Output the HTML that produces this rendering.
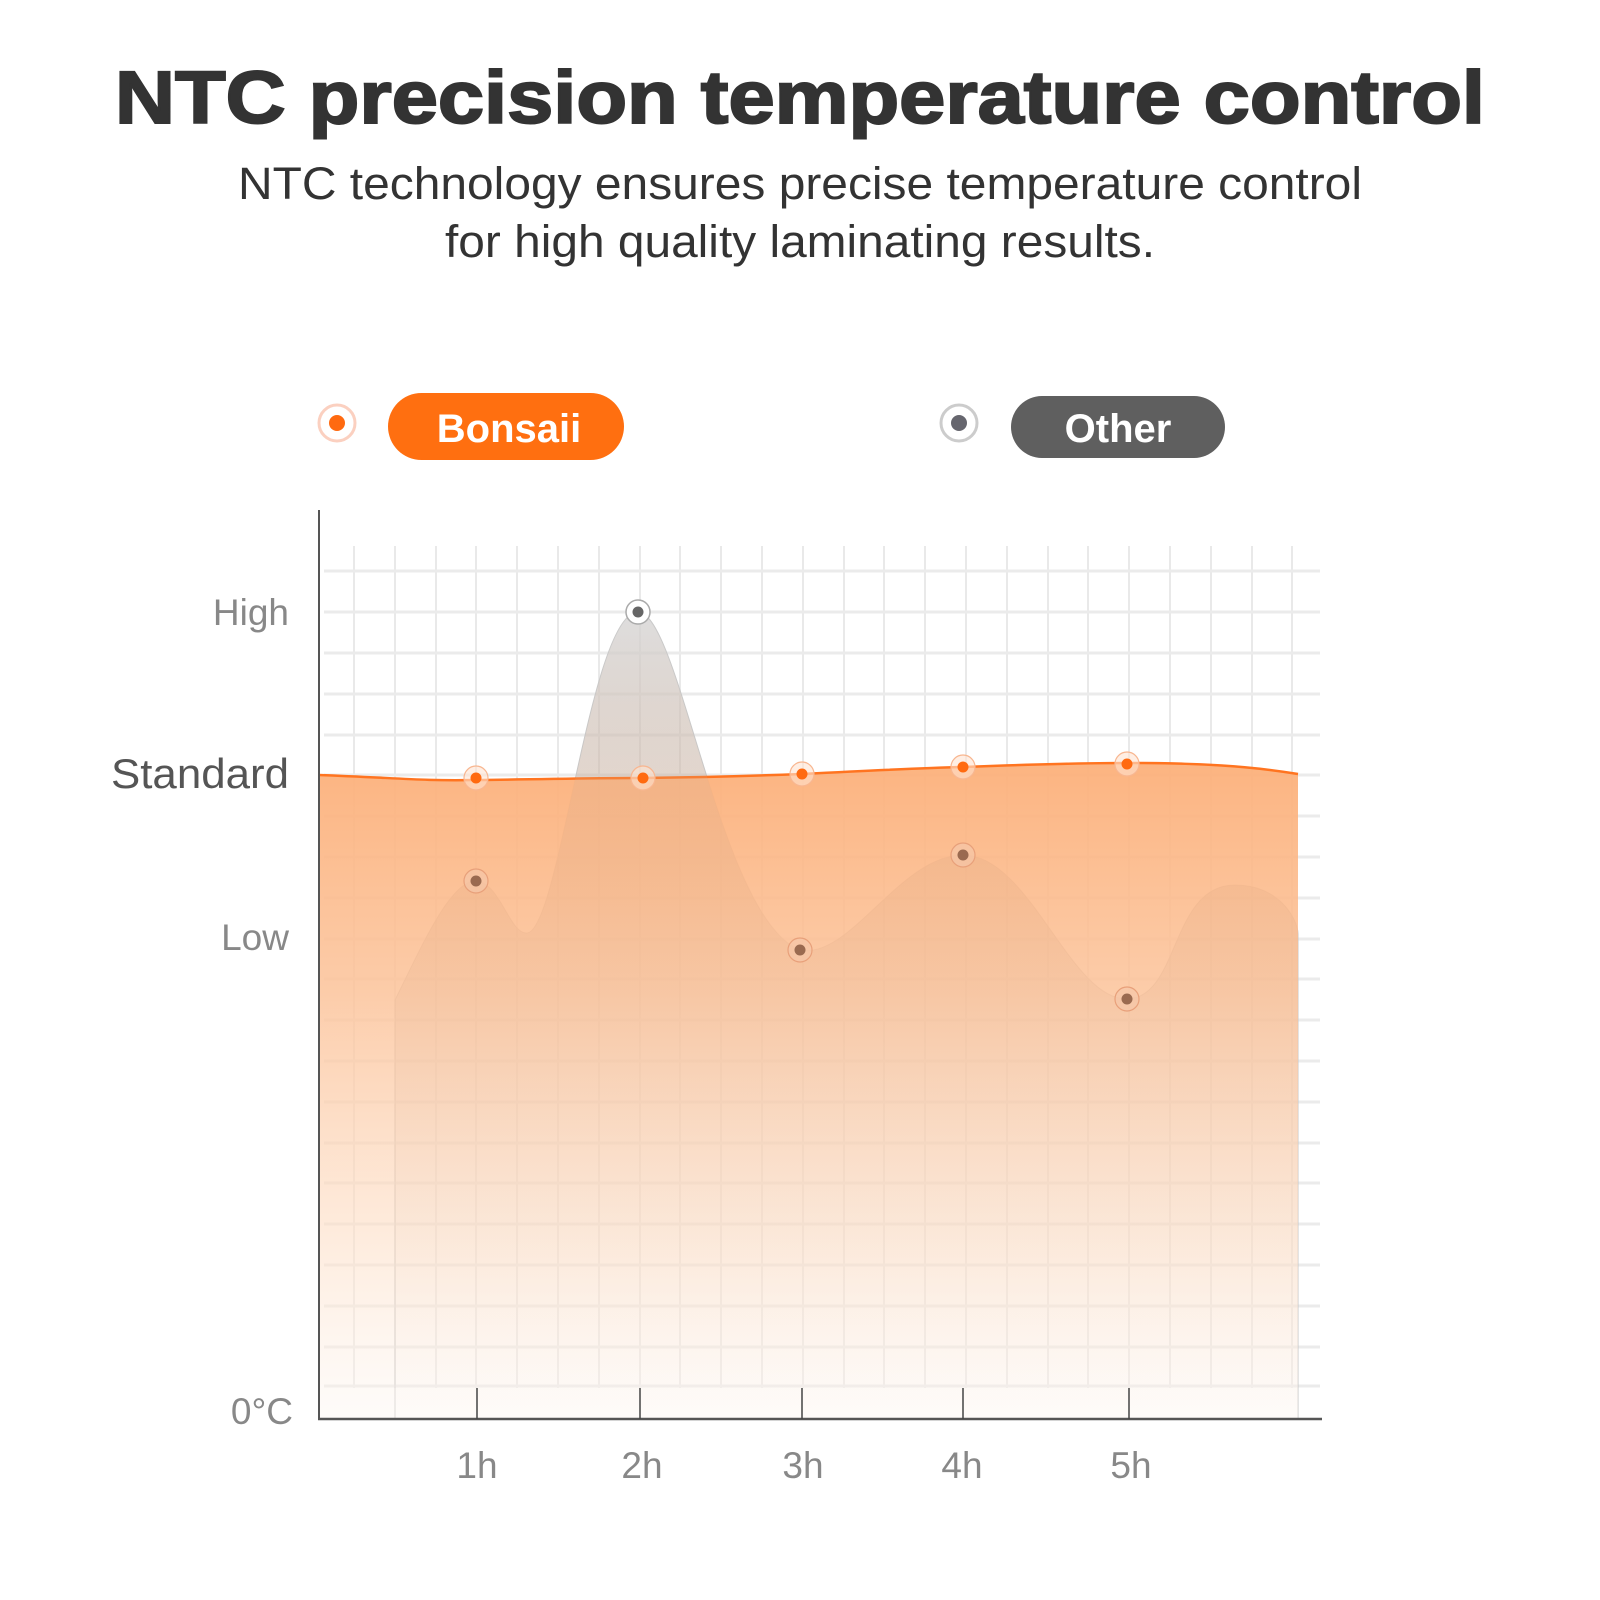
<!DOCTYPE html>
<html><head><meta charset="utf-8"><style>
html,body{margin:0;padding:0;background:#fff;}
svg{display:block;}
text{font-family:"Liberation Sans",Arial,sans-serif;}
</style></head><body>
<svg width="1600" height="1600" viewBox="0 0 1600 1600" xmlns="http://www.w3.org/2000/svg">
<defs>
<linearGradient id="og" x1="0" y1="0" x2="0" y2="1">
<stop offset="0" stop-color="#fcb07a" stop-opacity="0.95"/>
<stop offset="0.35" stop-color="#fcc39a" stop-opacity="0.85"/>
<stop offset="0.75" stop-color="#fde2cc" stop-opacity="0.6"/>
<stop offset="1" stop-color="#fdf6f1" stop-opacity="0.4"/>
</linearGradient>
<linearGradient id="gg" x1="0" y1="0" x2="0" y2="1">
<stop offset="0" stop-color="#d6d6d6" stop-opacity="0.75"/>
<stop offset="0.35" stop-color="#c09a80" stop-opacity="0.25"/>
<stop offset="1" stop-color="#e0d0c8" stop-opacity="0.0"/>
</linearGradient>
</defs>

<text x="800" y="123" text-anchor="middle" font-size="74" font-weight="900" fill="#333" textLength="1370" lengthAdjust="spacingAndGlyphs" stroke="#333" stroke-width="2">NTC precision temperature control</text>
<text x="800" y="199" text-anchor="middle" font-size="45" fill="#333" textLength="1124" lengthAdjust="spacingAndGlyphs">NTC technology ensures precise temperature control</text>
<text x="800" y="257" text-anchor="middle" font-size="45" fill="#333" textLength="710" lengthAdjust="spacingAndGlyphs">for high quality laminating results.</text>

<!-- legend -->
<circle cx="337" cy="423" r="18" fill="#fff" stroke="#fbd0c0" stroke-width="3"/>
<circle cx="337" cy="423" r="8" fill="#ff6a10"/>
<rect x="388" y="393" width="236" height="67" rx="33.5" fill="#ff6f10"/>
<text x="509" y="442" text-anchor="middle" font-size="40" font-weight="bold" fill="#fff">Bonsaii</text>
<circle cx="959" cy="423" r="18" fill="#fff" stroke="#ccc" stroke-width="3"/>
<circle cx="959" cy="423" r="8" fill="#66666e"/>
<rect x="1011" y="396" width="214" height="62" rx="31" fill="#5f5f5f"/>
<text x="1118" y="442" text-anchor="middle" font-size="40" font-weight="bold" fill="#fff">Other</text>

<!-- grid -->
<g stroke="#e9e9e9" stroke-width="2">
<line x1="354" y1="546" x2="354" y2="1388"/><line x1="395" y1="546" x2="395" y2="1388"/><line x1="436" y1="546" x2="436" y2="1388"/><line x1="476" y1="546" x2="476" y2="1388"/><line x1="517" y1="546" x2="517" y2="1388"/><line x1="558" y1="546" x2="558" y2="1388"/><line x1="599" y1="546" x2="599" y2="1388"/><line x1="640" y1="546" x2="640" y2="1388"/><line x1="680" y1="546" x2="680" y2="1388"/><line x1="721" y1="546" x2="721" y2="1388"/><line x1="762" y1="546" x2="762" y2="1388"/><line x1="803" y1="546" x2="803" y2="1388"/><line x1="844" y1="546" x2="844" y2="1388"/><line x1="884" y1="546" x2="884" y2="1388"/><line x1="925" y1="546" x2="925" y2="1388"/><line x1="966" y1="546" x2="966" y2="1388"/><line x1="1007" y1="546" x2="1007" y2="1388"/><line x1="1048" y1="546" x2="1048" y2="1388"/><line x1="1088" y1="546" x2="1088" y2="1388"/><line x1="1129" y1="546" x2="1129" y2="1388"/><line x1="1170" y1="546" x2="1170" y2="1388"/><line x1="1211" y1="546" x2="1211" y2="1388"/><line x1="1252" y1="546" x2="1252" y2="1388"/><line x1="1292" y1="546" x2="1292" y2="1388"/>
</g>
<g stroke="#ebebeb" stroke-width="3">
<line x1="324" y1="571" x2="1320" y2="571"/><line x1="324" y1="612" x2="1320" y2="612"/><line x1="324" y1="653" x2="1320" y2="653"/><line x1="324" y1="694" x2="1320" y2="694"/><line x1="324" y1="735" x2="1320" y2="735"/><line x1="324" y1="775" x2="1320" y2="775"/><line x1="324" y1="816" x2="1320" y2="816"/><line x1="324" y1="857" x2="1320" y2="857"/><line x1="324" y1="898" x2="1320" y2="898"/><line x1="324" y1="939" x2="1320" y2="939"/><line x1="324" y1="979" x2="1320" y2="979"/><line x1="324" y1="1020" x2="1320" y2="1020"/><line x1="324" y1="1061" x2="1320" y2="1061"/><line x1="324" y1="1102" x2="1320" y2="1102"/><line x1="324" y1="1143" x2="1320" y2="1143"/><line x1="324" y1="1183" x2="1320" y2="1183"/><line x1="324" y1="1224" x2="1320" y2="1224"/><line x1="324" y1="1265" x2="1320" y2="1265"/><line x1="324" y1="1306" x2="1320" y2="1306"/><line x1="324" y1="1347" x2="1320" y2="1347"/><line x1="324" y1="1386" x2="1320" y2="1386"/>
</g>

<!-- other (gray) area -->
<path d="M395,1419 L395,1000 C420,950 450,880 476,881 C500,882 510,935 527,933 C560,930 590,612 638,612 C680,612 720,920 800,950 C850,960 900,855 963,855 C1030,855 1070,1000 1127,999 C1180,998 1170,885 1235,885 C1280,885 1298,920 1298,934 L1298,1419 Z" fill="url(#gg)" stroke="#c9c9c9" stroke-width="1"/>

<!-- orange area -->
<path d="M319,775 C400,778 420,781 476,780 C560,779 590,778 643,778 C720,777 750,776 802,774 C880,770 920,768 963,767 C1040,764 1080,763 1127,763 C1200,763 1250,766 1298,774 L1298,1419 L319,1419 Z" fill="url(#og)"/>
<path d="M319,775 C400,778 420,781 476,780 C560,779 590,778 643,778 C720,777 750,776 802,774 C880,770 920,768 963,767 C1040,764 1080,763 1127,763 C1200,763 1250,766 1298,774" fill="none" stroke="#ff7420" stroke-width="2.5"/>

<!-- overlay gray for overlap -->
<path d="M395,1419 L395,1000 C420,950 450,880 476,881 C500,882 510,935 527,933 C560,930 590,612 638,612 C680,612 720,920 800,950 C850,960 900,855 963,855 C1030,855 1070,1000 1127,999 C1180,998 1170,885 1235,885 C1280,885 1298,920 1298,934 L1298,1419 Z" fill="url(#gg)" fill-opacity="0.35"/>

<!-- markers -->
<g>
<circle cx="638" cy="612" r="12" fill="#fff" stroke="#aaa" stroke-width="1.5"/><circle cx="638" cy="612" r="5.5" fill="#666"/>
<g fill="#f5c6a8" fill-opacity="0.7" stroke="#e8a07a" stroke-width="1.2">
<circle cx="476" cy="881" r="12"/><circle cx="800" cy="950" r="12"/><circle cx="963" cy="855" r="12"/><circle cx="1127" cy="999" r="12"/>
</g>
<g fill="#9a6a50"><circle cx="476" cy="881" r="5.5"/><circle cx="800" cy="950" r="5.5"/><circle cx="963" cy="855" r="5.5"/><circle cx="1127" cy="999" r="5.5"/></g>
<g fill="#ffe3d0" fill-opacity="0.6" stroke="#f8b690" stroke-width="1.2">
<circle cx="476" cy="778" r="12"/><circle cx="643" cy="778" r="12"/><circle cx="802" cy="774" r="12"/><circle cx="963" cy="767" r="12"/><circle cx="1127" cy="764" r="12"/>
</g>
<g fill="#ff6a10"><circle cx="476" cy="778" r="5.5"/><circle cx="643" cy="778" r="5.5"/><circle cx="802" cy="774" r="5.5"/><circle cx="963" cy="767" r="5.5"/><circle cx="1127" cy="764" r="5.5"/></g>
</g>

<!-- axes -->
<line x1="319" y1="510" x2="319" y2="1420" stroke="#555" stroke-width="2"/>
<line x1="318" y1="1419" x2="1322" y2="1419" stroke="#555" stroke-width="2.5"/>
<g stroke="#444" stroke-width="1.5">
<line x1="477" y1="1388" x2="477" y2="1419"/><line x1="640" y1="1388" x2="640" y2="1419"/><line x1="802" y1="1388" x2="802" y2="1419"/><line x1="963" y1="1388" x2="963" y2="1419"/><line x1="1129" y1="1388" x2="1129" y2="1419"/>
</g>

<!-- y labels -->
<g text-anchor="end" fill="#888" font-size="37">
<text x="289" y="625">High</text>
<text x="289" y="950">Low</text>
<text x="293" y="1424">0°C</text>
</g>
<text x="289" y="788" text-anchor="end" fill="#555" font-size="42" textLength="178" lengthAdjust="spacingAndGlyphs">Standard</text>

<!-- x labels -->
<g text-anchor="middle" fill="#888" font-size="37">
<text x="477" y="1478">1h</text><text x="642" y="1478">2h</text><text x="803" y="1478">3h</text><text x="962" y="1478">4h</text><text x="1131" y="1478">5h</text>
</g>
</svg>
</body></html>
